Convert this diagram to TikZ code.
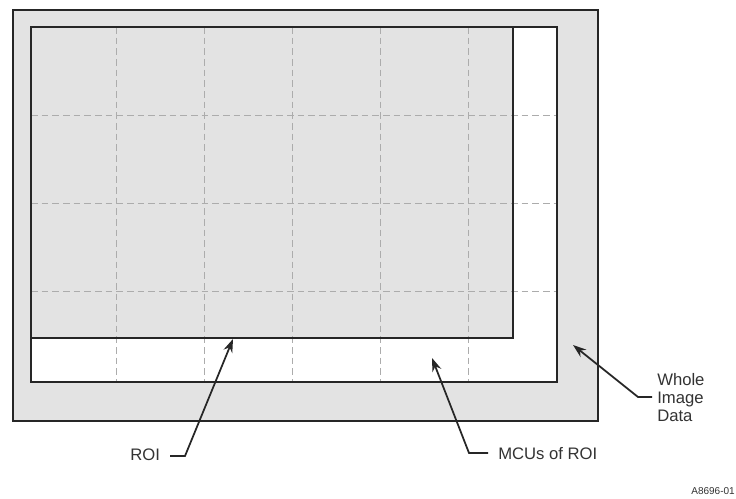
\documentclass[tikz,border=0pt]{standalone}
\usepackage{fontspec}
\setmainfont{Liberation Sans}
\usetikzlibrary{arrows.meta}
\begin{document}
\begin{tikzpicture}[x=0.75pt,y=-0.75pt,
  frame/.style={draw=black!85,line width=1.8pt},
  gridline/.style={draw=gray!65,line width=0.6pt,dash pattern=on 5pt off 3pt},
  lbl/.style={font=\fontsize{12.5}{13.5}\selectfont,text=black!80,inner sep=0pt},
  pointer/.style={draw=black!85,line width=1.3pt,-{Stealth[length=10pt,width=7pt]}}]
\useasboundingbox (0,0) rectangle (736,499);
\fill[white] (0,0) rectangle (736,499);
% whole image
\draw[frame,fill=gray!22] (13,10) rectangle (598,421);
% MCUs of ROI
\fill[white] (31,27) rectangle (557,382);
% ROI
\fill[gray!22] (31,27) rectangle (513,338);
% grid
\foreach \gx in {116,204,292,380,468}
  \draw[gridline] (\gx,27) -- (\gx,382);
\foreach \gy in {115,203,291}
  \draw[gridline] (31,\gy) -- (557,\gy);
% borders
\draw[frame] (31,27) rectangle (557,382);
\draw[black!85,line width=1.4pt] (31,338) -- (513,338) -- (513,27);
% labels
\node[lbl,anchor=west] (roi) at (130,455) {ROI};
\node[lbl,anchor=west] (mcu) at (498,454) {MCUs of ROI};
\node[lbl,anchor=west,align=left] (whole) at (657,398) {Whole\\Image\\Data};
\node[font=\fontsize{7.5}{8}\selectfont,text=black!80,anchor=east,inner sep=0pt] (code) at (735,491) {A8696-01};
% pointer geometry
\coordinate (roistart) at (170,456);
\coordinate (roibend) at (185,456);
\coordinate (roitip) at (233,339);
\coordinate (mcustart) at (488,453);
\coordinate (mcubend) at (469,453);
\coordinate (mcutip) at (432,358);
\coordinate (wholestart) at (652,397);
\coordinate (wholebend) at (638,397);
\coordinate (wholetip) at (573,345);
\draw[pointer] (roistart) -- (roibend) -- (roitip);
\draw[pointer] (mcustart) -- (mcubend) -- (mcutip);
\draw[pointer] (wholestart) -- (wholebend) -- (wholetip);
\end{tikzpicture}
\end{document}
